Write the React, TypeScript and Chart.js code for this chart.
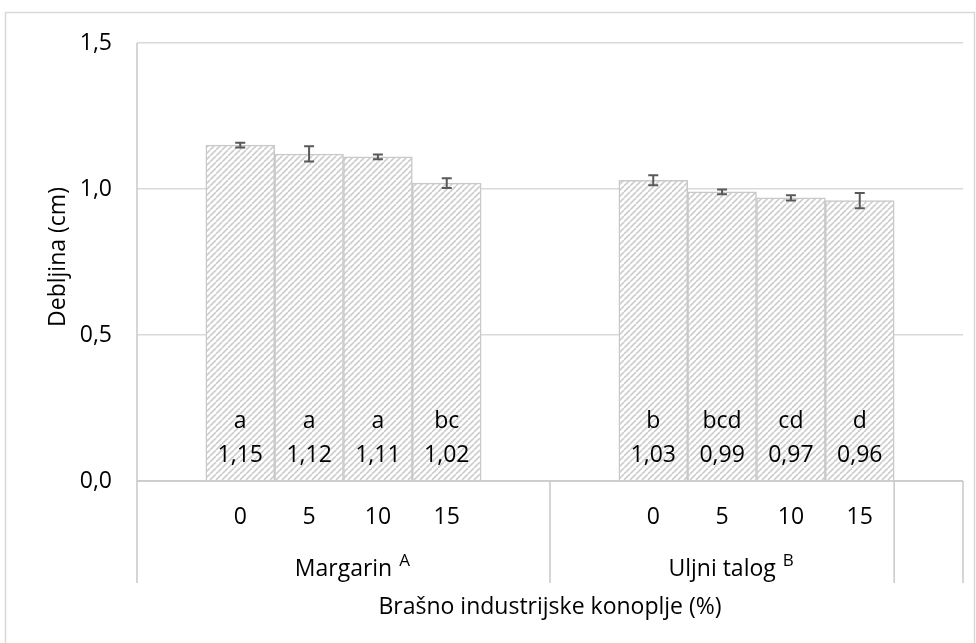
import React, { useEffect, useRef } from 'react';
import { Chart, registerables } from 'chart.js';

Chart.register(...registerables);

const categories = ['', '0', '5', '10', '15', '', '', '0', '5', '10', '15', ''];
const values: (number | null)[] = [null, 1.15, 1.12, 1.11, 1.02, null, null, 1.03, 0.99, 0.97, 0.96, null];
const errors: (number | null)[] = [null, 0.008, 0.026, 0.008, 0.017, null, null, 0.017, 0.008, 0.009, 0.026, null];
const letters = ['', 'a', 'a', 'a', 'bc', '', '', 'b', 'bcd', 'cd', 'd', ''];
const groupNames = ['Margarin', 'Uljni talog', ''];
const groupSups = ['A', 'B', ''];
const groupStart = [0, 6, 11];
const groupEnd = [5, 10, 11];
const yTicks = [0, 0.5, 1.0, 1.5];
const yTitle = 'Debljina (cm)';
const xTitle = 'Brašno industrijske konoplje (%)';

const FONT = '"Open Sans", Lato, sans-serif';
const FS = 23;

function fmt(v: number, d: number) {
  return v.toFixed(d).replace('.', ',');
}

function makePattern(): CanvasPattern | string {
  const p = 6;
  const c = document.createElement('canvas');
  c.width = p;
  c.height = p;
  const g = c.getContext('2d');
  if (!g) return '#eee';
  g.fillStyle = '#ffffff';
  g.fillRect(0, 0, p, p);
  g.strokeStyle = '#cdcdcd';
  g.lineWidth = 1.6;
  for (const k of [-p, 0, p]) {
    g.beginPath();
    g.moveTo(k, p);
    g.lineTo(k + p, 0);
    g.stroke();
  }
  const pat = g.createPattern(c, 'repeat');
  return pat || '#eee';
}

export default function App() {
  const ref = useRef<HTMLCanvasElement>(null);

  useEffect(() => {
    if (!ref.current) return;
    const overlay = {
      id: 'overlay',
      afterDatasetsDraw(chart: any) {
        const ctx = chart.ctx as CanvasRenderingContext2D;
        const xs = chart.scales.x;
        const ys = chart.scales.y;
        const area = chart.chartArea;
        const base = ys.getPixelForValue(0);
        const step = xs.getPixelForValue(1) - xs.getPixelForValue(0);
        const bottomLine = base + 102;
        ctx.save();

        // error bars
        ctx.strokeStyle = '#595959';
        ctx.lineWidth = 2;
        values.forEach((v, i) => {
          const e = errors[i];
          if (v == null || e == null) return;
          const x = xs.getPixelForValue(i);
          const yt = ys.getPixelForValue(v + e);
          const yb = ys.getPixelForValue(v - e);
          ctx.beginPath();
          ctx.moveTo(x, yt);
          ctx.lineTo(x, yb);
          ctx.moveTo(x - 5, yt);
          ctx.lineTo(x + 5, yt);
          ctx.moveTo(x - 5, yb);
          ctx.lineTo(x + 5, yb);
          ctx.stroke();
        });

        // labels inside bars
        ctx.fillStyle = '#000';
        ctx.font = `${FS}px ${FONT}`;
        ctx.textAlign = 'center';
        ctx.textBaseline = 'middle';
        values.forEach((v, i) => {
          if (v == null) return;
          const x = xs.getPixelForValue(i);
          ctx.fillText(letters[i], x, base - 60);
          ctx.fillText(fmt(v, 2), x, base - 26);
        });

        // axis lines
        ctx.strokeStyle = '#c8c8c8';
        ctx.lineWidth = 1.5;
        ctx.beginPath();
        ctx.moveTo(area.left, area.top);
        ctx.lineTo(area.left, bottomLine);
        ctx.moveTo(area.left, base);
        ctx.lineTo(area.right, base);
        groupEnd.forEach((end) => {
          const x = xs.getPixelForValue(end) + step / 2;
          ctx.moveTo(x, base);
          ctx.lineTo(x, bottomLine);
        });
        ctx.stroke();

        // category tick labels
        ctx.fillStyle = '#000';
        ctx.font = `${FS}px ${FONT}`;
        categories.forEach((c, i) => {
          if (!c) return;
          ctx.fillText(c, xs.getPixelForValue(i), base + 36);
        });

        // group labels
        groupNames.forEach((name, gi) => {
          if (!name) return;
          const x0 = xs.getPixelForValue(groupStart[gi]) - step / 2;
          const x1 = xs.getPixelForValue(groupEnd[gi]) + step / 2;
          const cx = (x0 + x1) / 2;
          ctx.font = `${FS}px ${FONT}`;
          ctx.textAlign = 'center';
          ctx.textBaseline = 'alphabetic';
          ctx.fillText(name, cx, base + 95);
          const w = ctx.measureText(name).width;
          ctx.font = `17px ${FONT}`;
          ctx.textAlign = 'left';
          ctx.fillText(groupSups[gi], cx + w / 2 + 7, base + 85);
        });

        // axis titles
        ctx.font = `${FS}px ${FONT}`;
        ctx.textAlign = 'center';
        ctx.textBaseline = 'middle';
        ctx.fillText(xTitle, (area.left + area.right) / 2, base + 126);
        ctx.save();
        ctx.translate(58, (area.top + base) / 2 - 5);
        ctx.rotate(-Math.PI / 2);
        ctx.fillText(yTitle, 0, 0);
        ctx.restore();

        // outer border
        ctx.strokeStyle = '#d9d9d9';
        ctx.lineWidth = 1.5;
        ctx.strokeRect(5.5, 12.5, 969, 650);
        ctx.restore();
      },
    };

    const chart = new Chart(ref.current, {
      type: 'bar',
      data: {
        labels: categories,
        datasets: [
          {
            data: values as any,
            backgroundColor: makePattern() as any,
            borderColor: '#c9c9c9',
            borderWidth: 1.5,
            categoryPercentage: 1,
            barPercentage: 1,
          },
        ],
      },
      options: {
        animation: false,
        responsive: false,
        devicePixelRatio: 1,
        layout: { padding: { top: 43, right: 13, left: 0, bottom: 0 } },
        plugins: { legend: { display: false }, tooltip: { enabled: false } },
        scales: {
          x: {
            grid: { display: false },
            border: { display: false },
            ticks: { display: false },
            afterFit: (s: any) => {
              s.height = 162;
            },
          },
          y: {
            min: 0,
            max: 1.5,
            afterBuildTicks: (s: any) => {
              s.ticks = yTicks.map((v) => ({ value: v }));
            },
            grid: { color: '#d9d9d9', lineWidth: 1.5, drawTicks: false },
            border: { display: false },
            ticks: {
              padding: 25,
              color: '#000',
              font: { family: FONT, size: FS },
              callback: (v: any) => fmt(Number(v), 1),
            },
            afterFit: (s: any) => {
              s.width = 137;
            },
          },
        },
      },
      plugins: [overlay],
    });
    return () => chart.destroy();
  }, []);

  return (
    <div style={{ position: 'fixed', left: 0, top: 0, width: 976, height: 643, background: '#fff' }}>
      <canvas ref={ref} width={976} height={643} style={{ display: 'block' }} />
    </div>
  );
}
